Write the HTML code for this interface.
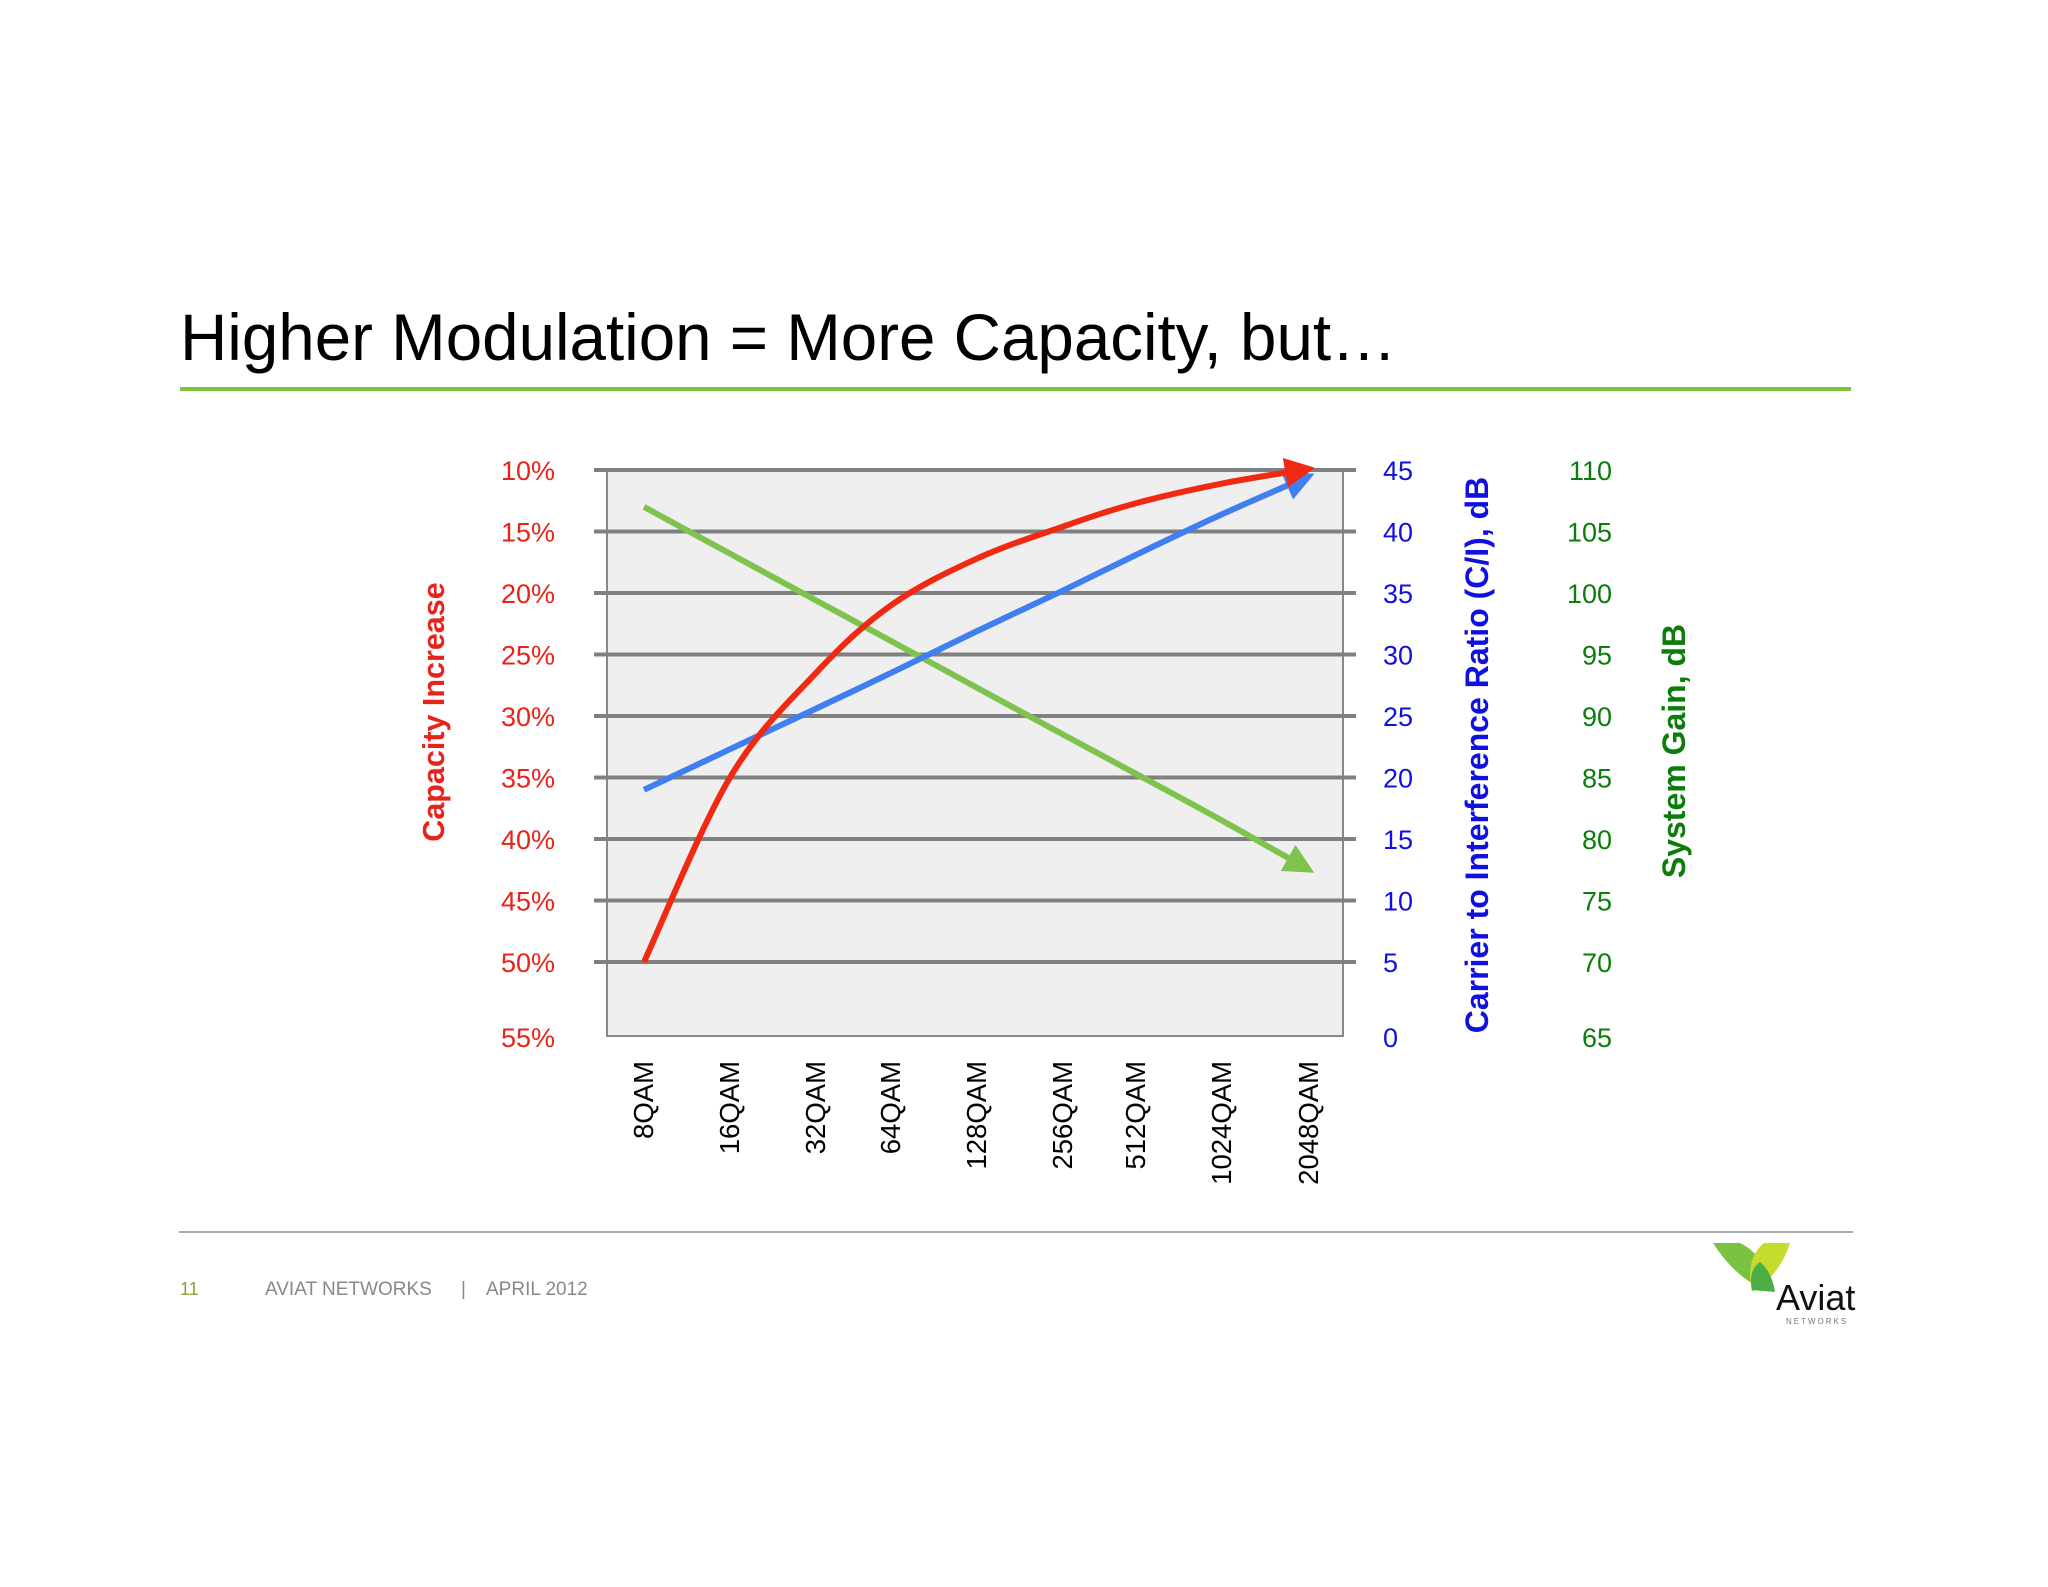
<!DOCTYPE html>
<html><head><meta charset="utf-8"><style>
html,body{margin:0;padding:0;background:#fff;}
body{width:2048px;height:1582px;position:relative;overflow:hidden;font-family:"Liberation Sans",Arial,sans-serif;}
</style></head><body>
<svg id="chart" width="2048" height="1582" viewBox="0 0 2048 1582" xmlns="http://www.w3.org/2000/svg" font-family="Liberation Sans, Arial, sans-serif">
<text x="180" y="360" font-size="65.5" fill="#000">Higher Modulation = More Capacity, but…</text>
<rect x="180" y="387" width="1671" height="4" fill="#7dc241"/>
<rect x="607" y="470" width="736" height="566" fill="#efeff0" stroke="#888" stroke-width="2"/>
<g id="grid"></g>
<g id="axes"></g>
<g id="series"></g>
<text transform="translate(444,712) rotate(-90)" text-anchor="middle" font-size="30.5" font-weight="bold" fill="#e8231a">Capacity Increase</text>
<text transform="translate(1488,755) rotate(-90)" text-anchor="middle" font-size="32" font-weight="bold" fill="#1010e0">Carrier to Interference Ratio (C/I), dB</text>
<text transform="translate(1685,751) rotate(-90)" text-anchor="middle" font-size="32" font-weight="bold" fill="#0a7d0a">System Gain, dB</text>
<rect x="179" y="1231" width="1674" height="2" fill="#aaa"/>
<text x="180" y="1295" font-size="18" fill="#8aa03a">11</text>
<text x="265" y="1295" font-size="19" fill="#888">AVIAT NETWORKS</text>
<text x="461" y="1295" font-size="19" fill="#888">|</text>
<text x="486" y="1295" font-size="19" fill="#888">APRIL 2012</text>
<g>
<path d="M1713,1243 L1740,1243 Q1765,1255 1775,1292 Q1740,1285 1713,1243Z" fill="#7cc242"/>
<path d="M1790,1243 L1764,1243 Q1745,1258 1752,1292 Q1780,1275 1790,1243Z" fill="#c5dc2e"/>
<path d="M1752,1290 Q1748,1270 1760,1262 Q1772,1272 1775,1292Z" fill="#4caf45"/>
<text x="1776" y="1310" font-size="36" fill="#111">Aviat</text>
<text x="1786" y="1324" font-size="8" fill="#777" letter-spacing="2">NETWORKS</text>
</g>
</svg>
<script>
const categories=["8QAM","16QAM","32QAM","64QAM","128QAM","256QAM","512QAM","1024QAM","2048QAM"];
const catX=[644,730,816,891,977,1063,1136,1222,1309];
const capacityTicks=[10,15,20,25,30,35,40,45,50];
const ciTicks=[45,40,35,30,25,20,15,10,5];
const gainTicks=[110,105,100,95,90,85,80,75,70];
const capacity=[50,35,26.5,21,17.2,14.6,12.7,11.1,9.9];
const ci=[19,22.3,25.6,28.5,31.9,35.2,38.1,41.4,44.5];
const gain=[107,103.2,99.4,96.1,92.3,88.5,85.3,81.5,77.5];
const NS="http://www.w3.org/2000/svg";
const yCap=v=>470+(v-10)*(492/40);
const yCI=v=>470+(45-v)*(492/40);
const yGain=v=>470+(110-v)*(492/40);
const xCat=i=>catX[i];
function mk(tag,attrs,parent){const e=document.createElementNS(NS,tag);for(const k in attrs)e.setAttribute(k,attrs[k]);parent.appendChild(e);return e;}
const grid=document.getElementById('grid'),axes=document.getElementById('axes'),series=document.getElementById('series');
capacityTicks.forEach((v,i)=>{
  const y=yCap(v);
  const l=mk('line',{x1:594,x2:1356,y1:y,y2:y,stroke:'#808080','stroke-width':4},grid);
  
  
  const t=mk('text',{x:555,y:y+10,'text-anchor':'end','font-size':27,fill:'#e8231a'},axes);t.textContent=v+'%';
  
  
  const b=mk('text',{x:1383,y:yCI(ciTicks[i])+10,'font-size':27,fill:'#1010e0'},axes);b.textContent=ciTicks[i];
  
  
  const g=mk('text',{x:1612,y:yGain(gainTicks[i])+10,'text-anchor':'end','font-size':27,fill:'#0a7d0a'},axes);g.textContent=gainTicks[i];
  
  
});
[['55%',555,'end','#e8231a'],['0',1383,'start','#1010e0'],['65',1612,'end','#0a7d0a']].forEach(a=>{
  const t=mk('text',{x:a[1],y:1047,'text-anchor':a[2],'font-size':27,fill:a[3]},axes);t.textContent=a[0];
  
  
});
categories.forEach((c,i)=>{
  const t=mk('text',{transform:`translate(${xCat(i)+9},1061) rotate(-90)`,'text-anchor':'end','font-size':27.5,fill:'#000'},axes);t.textContent=c;
  
  
});
const defs=mk('defs',{},series);
[['ar','#f02a12'],['ab','#3f7fef'],['ag','#7fc34f']].forEach(m=>{
  const mm=mk('marker',{id:m[0],viewBox:'0 0 10 10',refX:8,refY:5,markerWidth:5,markerHeight:5,orient:'auto',markerUnits:'strokeWidth'},defs);
  mk('path',{d:'M0,0 L10,5 L0,10Z',fill:m[1]},mm);
});
function smooth(pts){let d=`M${pts[0][0]},${pts[0][1]}`;for(let i=0;i<pts.length-1;i++){const p0=pts[i-1]||pts[i],p1=pts[i],p2=pts[i+1],p3=pts[i+2]||p2;d+=` C${p1[0]+(p2[0]-p0[0])/6},${p1[1]+(p2[1]-p0[1])/6} ${p2[0]-(p3[0]-p1[0])/6},${p2[1]-(p3[1]-p1[1])/6} ${p2[0]},${p2[1]}`;}return d;}
const g1=mk('path',{d:smooth(gain.map((v,i)=>[xCat(i),yGain(v)])),fill:'none',stroke:'#7fc34f','stroke-width':6,'marker-end':'url(#ag)'},series);


const b1=mk('path',{d:smooth(ci.map((v,i)=>[xCat(i),yCI(v)])),fill:'none',stroke:'#3f7fef','stroke-width':6,'marker-end':'url(#ab)'},series);


const r1=mk('path',{d:smooth(capacity.map((v,i)=>[xCat(i),yCap(v)])),fill:'none',stroke:'#f02a12','stroke-width':6,'marker-end':'url(#ar)'},series);


</script>
</body></html>
